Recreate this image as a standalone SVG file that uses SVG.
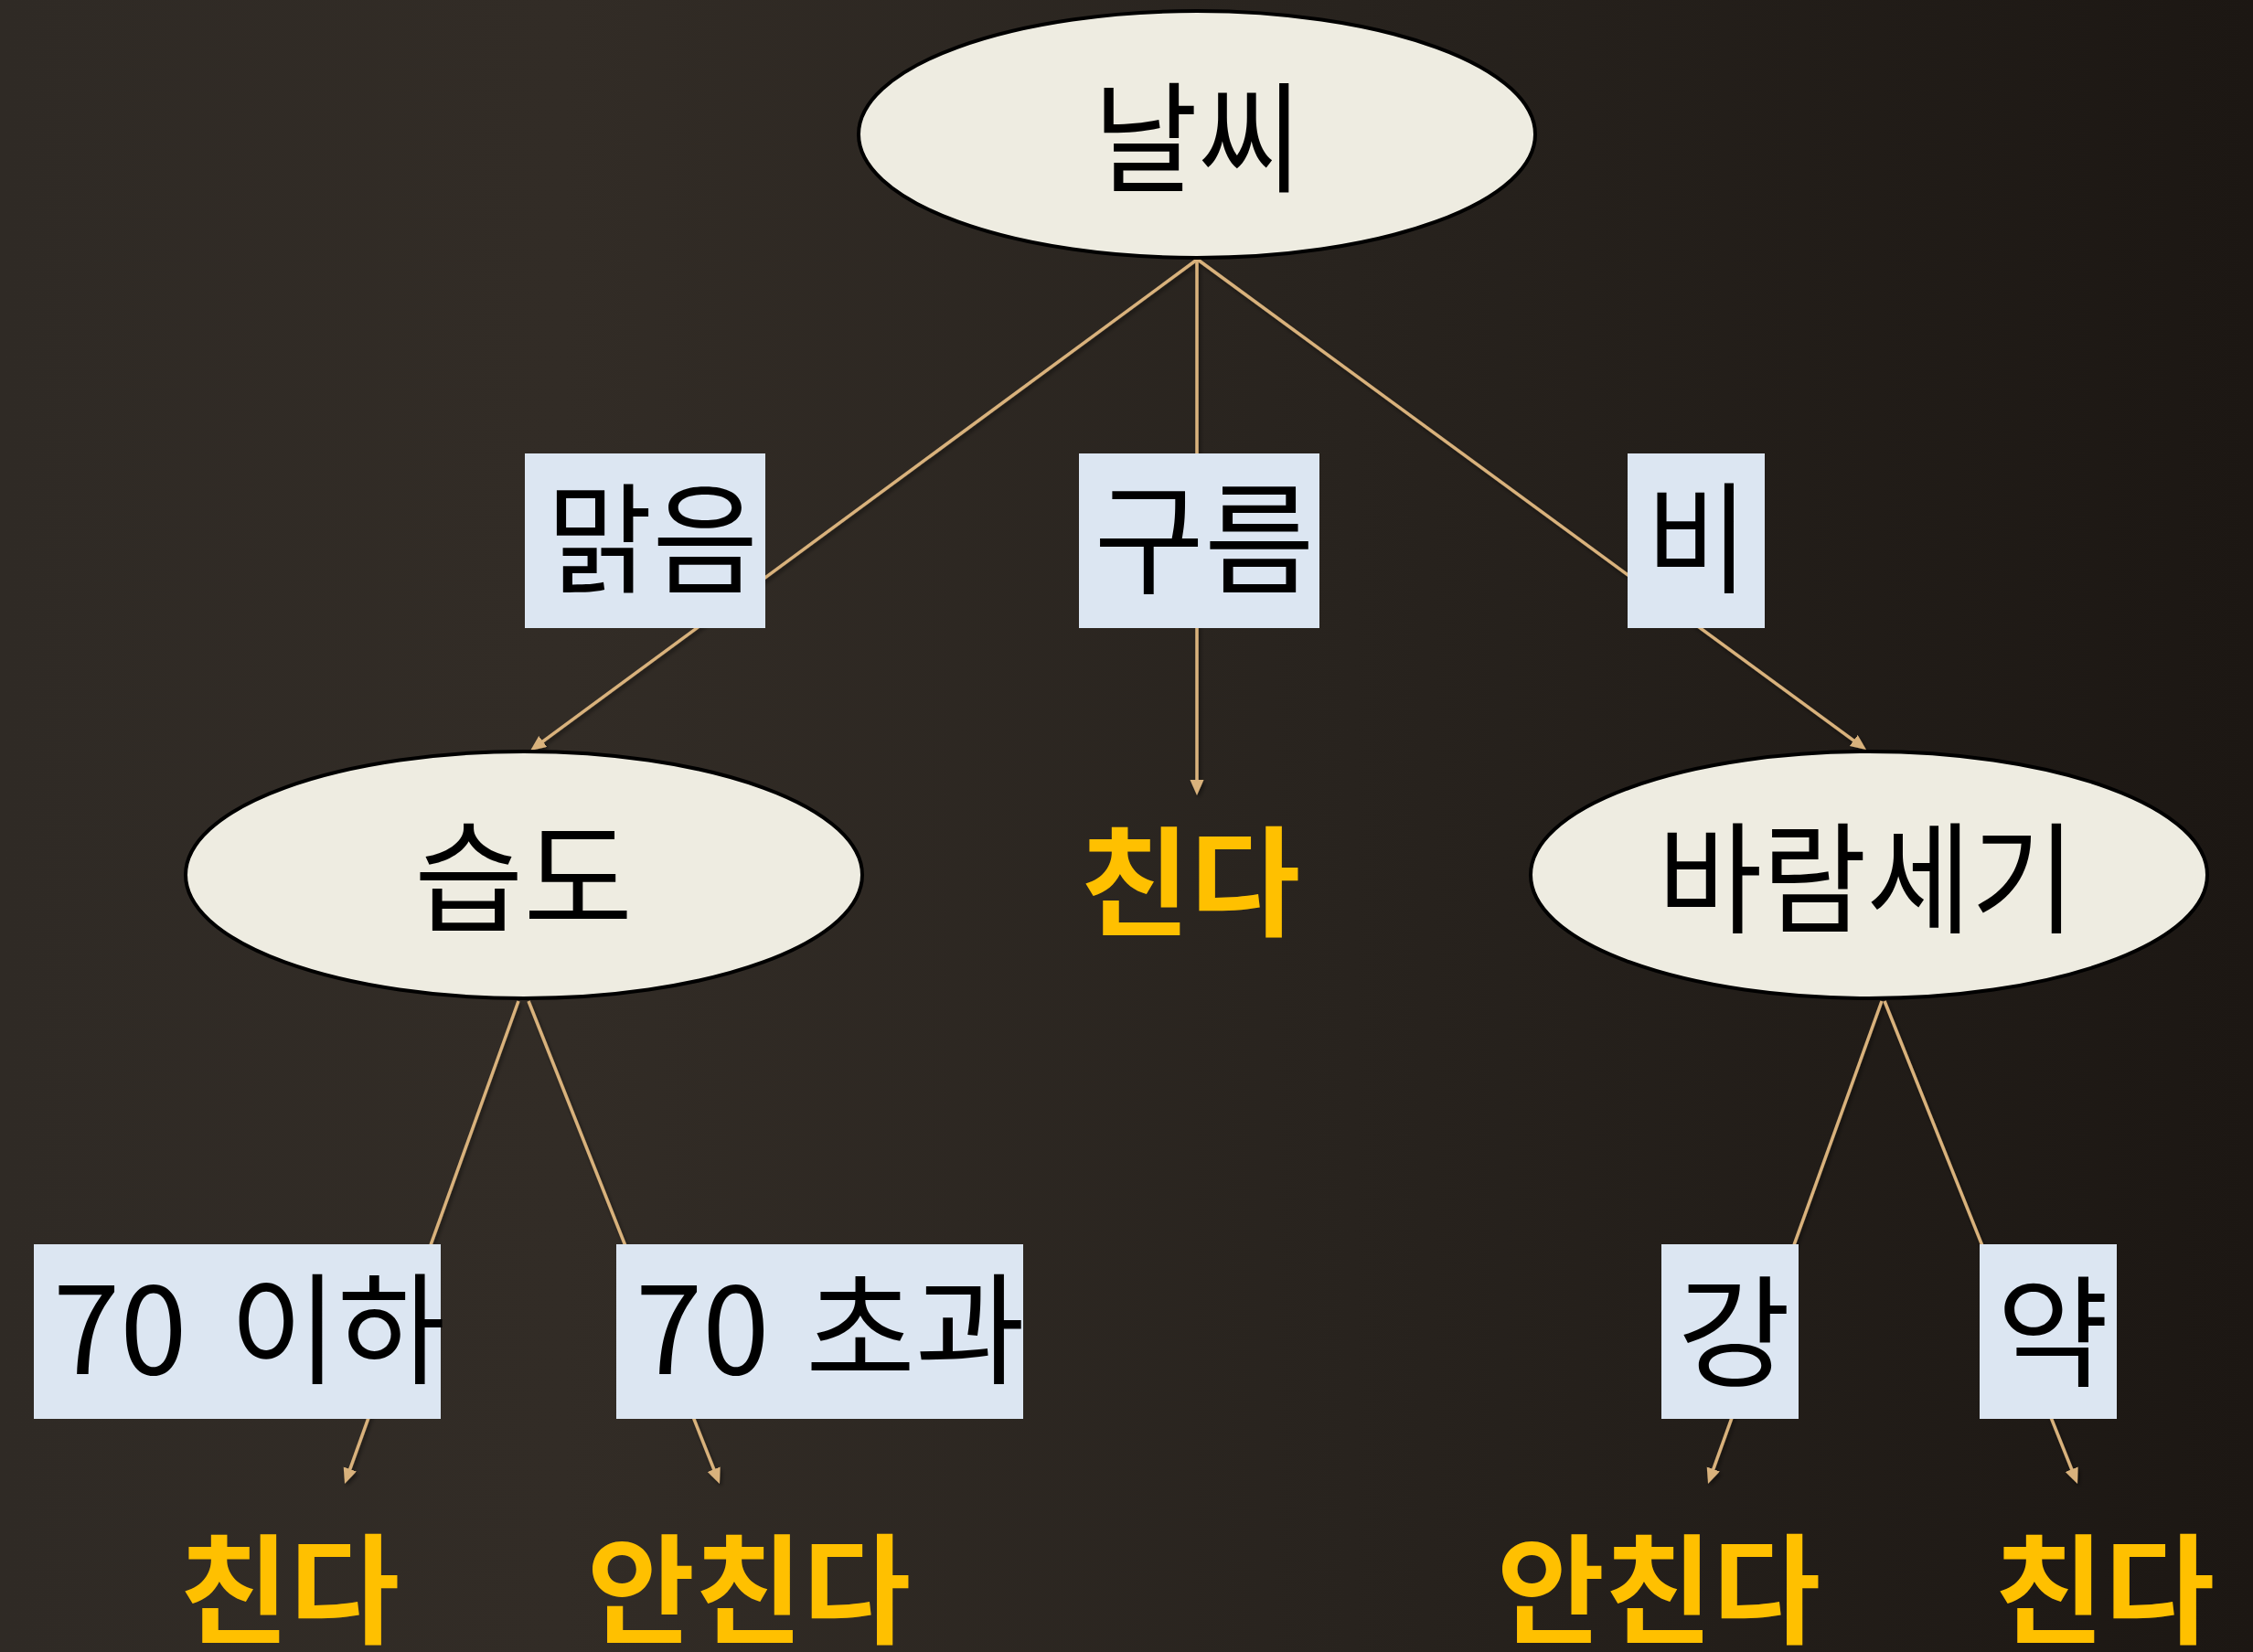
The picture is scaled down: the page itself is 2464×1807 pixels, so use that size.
<svg xmlns="http://www.w3.org/2000/svg" width="2464" height="1807" viewBox="0 0 2464 1807">
  <defs>
    <linearGradient id="bg" x1="0" y1="0" x2="1" y2="0">
      <stop offset="0" stop-color="#2f2a25"/>
      <stop offset="0.25" stop-color="#322c26"/>
      <stop offset="0.6" stop-color="#28231e"/>
      <stop offset="1" stop-color="#1c1713"/>
    </linearGradient>
    <marker id="arrow" markerUnits="userSpaceOnUse" markerWidth="18" markerHeight="16" refX="7" refY="7.5" orient="auto">
      <path d="M0,0 L17,7.5 L0,15 z" fill="#d9b27c"/>
    </marker>
    <filter id="shadow" x="-10%" y="-10%" width="120%" height="120%">
      <feDropShadow dx="2" dy="3" stdDeviation="2" flood-color="#000" flood-opacity="0.45"/>
    </filter>
  </defs>
  <style>
    .ell { fill: #eeece1; stroke: #000; stroke-width: 4; }
    .lab { fill: #dce6f2; }
    .t { font-family: "Noto Sans CJK KR", "Noto Sans", sans-serif; font-size: 132px; fill: #000; text-anchor: middle; }
    .ts { font-family: "Noto Sans CJK KR", "Noto Sans", sans-serif; font-size: 132px; fill: #000; text-anchor: start; }
    .leaf { font-family: "Noto Sans CJK KR", "Noto Sans", sans-serif; font-size: 130px; font-weight: 700; fill: #ffc000; text-anchor: middle; }
    .edge { stroke: #d9b27c; stroke-width: 3.5; fill: none; marker-end: url(#arrow); }
  </style>

  <rect x="0" y="0" width="2464" height="1807" fill="url(#bg)"/>

  <!-- connectors -->
  <g id="connectors" filter="url(#shadow)">
    <line class="edge" x1="1309" y1="284" x2="588.1" y2="815.1"/>
    <line class="edge" x1="1309" y1="284" x2="1309" y2="860"/>
    <line class="edge" x1="1310" y1="284" x2="2032.9" y2="814.1"/>
    <line class="edge" x1="567" y1="1095" x2="380.4" y2="1613.6"/>
    <line class="edge" x1="578" y1="1095" x2="783.3" y2="1613.7"/>
    <line class="edge" x1="2058" y1="1095" x2="1871.4" y2="1613.6"/>
    <line class="edge" x1="2061" y1="1095" x2="2268.3" y2="1613.7"/>
  </g>

  <!-- decision nodes -->
  <g id="node-weather">
    <ellipse class="ell" cx="1309" cy="147" rx="370" ry="135"/>
    <text class="t" x="1310" y="200" textLength="228" lengthAdjust="spacingAndGlyphs">날씨</text>
  </g>
  <g id="node-humidity">
    <ellipse class="ell" cx="573" cy="957" rx="370" ry="135"/>
    <text class="t" x="572.5" y="1009" textLength="239" lengthAdjust="spacingAndGlyphs">습도</text>
  </g>
  <g id="node-wind">
    <ellipse class="ell" cx="2044" cy="957" rx="370" ry="135"/>
    <text class="t" x="2041.5" y="1010" textLength="457" lengthAdjust="spacingAndGlyphs">바람세기</text>
  </g>

  <!-- branch labels -->
  <g id="label-clear">
    <rect class="lab" x="574" y="496" width="263" height="191"/>
    <text class="t" x="713.5" y="639" textLength="231" lengthAdjust="spacingAndGlyphs">맑음</text>
  </g>
  <g id="label-cloudy">
    <rect class="lab" x="1180" y="496" width="263" height="191"/>
    <text class="t" x="1317" y="639" textLength="241" lengthAdjust="spacingAndGlyphs">구름</text>
  </g>
  <g id="label-rain">
    <rect class="lab" x="1780" y="496" width="150" height="191"/>
    <text class="t" x="1856" y="638" textLength="111.5" lengthAdjust="spacingAndGlyphs">비</text>
  </g>
  <g id="label-le70">
    <rect class="lab" x="37" y="1361" width="445" height="191"/>
    <text class="ts" y="1503"><tspan x="58">70</tspan> <tspan x="251" textLength="236" lengthAdjust="spacingAndGlyphs">이하</tspan></text>
  </g>
  <g id="label-gt70">
    <rect class="lab" x="674" y="1361" width="445" height="191"/>
    <text class="ts" y="1503"><tspan x="695">70</tspan> <tspan x="881" textLength="240" lengthAdjust="spacingAndGlyphs">초과</tspan></text>
  </g>
  <g id="label-strong">
    <rect class="lab" x="1817" y="1361" width="150" height="191"/>
    <text class="t" x="1896.5" y="1506" textLength="124" lengthAdjust="spacingAndGlyphs">강</text>
  </g>
  <g id="label-weak">
    <rect class="lab" x="2165" y="1361" width="150" height="191"/>
    <text class="t" x="2245" y="1506" textLength="123" lengthAdjust="spacingAndGlyphs">약</text>
  </g>

  <!-- outcomes -->
  <g id="leaf-cloudy">
    <text class="leaf" x="1301.5" y="1013" textLength="241" lengthAdjust="spacingAndGlyphs">친다</text>
  </g>
  <g id="leaf-le70">
    <text class="leaf" x="316.5" y="1787" textLength="241" lengthAdjust="spacingAndGlyphs">친다</text>
  </g>
  <g id="leaf-gt70">
    <text class="leaf" x="819" y="1787" textLength="354" lengthAdjust="spacingAndGlyphs">안친다</text>
  </g>
  <g id="leaf-strong">
    <text class="leaf" x="1814" y="1787" textLength="354" lengthAdjust="spacingAndGlyphs">안친다</text>
  </g>
  <g id="leaf-weak">
    <text class="leaf" x="2301.5" y="1787" textLength="241" lengthAdjust="spacingAndGlyphs">친다</text>
  </g>
</svg>
